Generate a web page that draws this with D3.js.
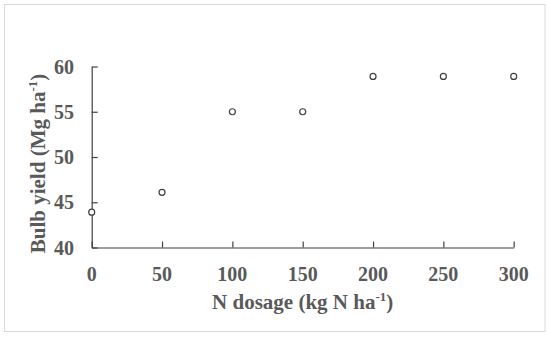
<!DOCTYPE html>
<html>
<head>
<meta charset="utf-8">
<script src="https://cdn.jsdelivr.net/npm/d3@7"></script>
<style>
  body { margin: 0; background: #fff; }
  svg { display: block; }
</style>
</head>
<body>
<svg id="chart"></svg>
<script>
// values
var doses = [0, 50, 100, 150, 200, 250, 300]
var yields = [43.9, 46.1, 55.0, 55.0, 58.9, 58.9, 58.9]
var xTicks = [0, 50, 100, 150, 200, 250, 300]
var yTicks = [40, 45, 50, 55, 60]

var dimensions = {
    width: 550,
    height: 337,
    margin: { top: 66.5, bottom: 89.5, left: 91.7, right: 36.3 }
}

var svg = d3.select("#chart")
    .attr("width", dimensions.width)
    .attr("height", dimensions.height)

// outer frame
svg.append("rect")
    .attr("x", 4.5).attr("y", 4.5)
    .attr("width", 540.5).attr("height", 327)
    .attr("fill", "none")
    .attr("stroke", "#d9d9d9")
    .attr("stroke-width", 1)

var xScale = d3.scaleLinear()
    .domain([0, 300])
    .range([dimensions.margin.left, dimensions.width - dimensions.margin.right])

var yScale = d3.scaleLinear()
    .domain([40, 60])
    .range([dimensions.height - dimensions.margin.bottom, dimensions.margin.top])

var font = "'Liberation Serif', 'Times New Roman', serif"
var axisColor = "#404040"
var textColor = "#595959"

var xAxis = svg.append("g")
    .attr("transform", "translate(0," + yScale(40) + ")")
    .call(d3.axisTop(xScale).tickValues(xTicks).tickSize(6).tickSizeOuter(0).tickFormat(""))
xAxis.select(".domain").attr("stroke", axisColor).attr("stroke-width", 1.2)
xAxis.selectAll(".tick line").attr("stroke", axisColor).attr("stroke-width", 1.2)

var yAxis = svg.append("g")
    .attr("transform", "translate(" + xScale(0) + ",0)")
    .call(d3.axisRight(yScale).tickValues(yTicks).tickSize(6).tickSizeOuter(0).tickFormat(""))
yAxis.select(".domain").attr("stroke", axisColor).attr("stroke-width", 1.2)
yAxis.selectAll(".tick line").attr("stroke", axisColor).attr("stroke-width", 1.2)

// tick labels
svg.append("g").selectAll("text")
    .data(xTicks)
    .enter()
    .append("text")
    .attr("x", d => xScale(d))
    .attr("y", 280.5)
    .attr("text-anchor", "middle")
    .attr("font-family", font)
    .attr("font-weight", "bold")
    .attr("font-size", 20)
    .attr("fill", textColor)
    .text(d => d)

svg.append("g").selectAll("text")
    .data(yTicks)
    .enter()
    .append("text")
    .attr("x", 74)
    .attr("y", d => yScale(d) + 7)
    .attr("text-anchor", "end")
    .attr("font-family", font)
    .attr("font-weight", "bold")
    .attr("font-size", 20)
    .attr("fill", textColor)
    .text(d => d)

// axis titles
var xTitle = svg.append("text")
    .attr("x", (xScale(0) + xScale(300)) / 2)
    .attr("y", 309)
    .attr("text-anchor", "middle")
    .attr("font-family", font)
    .attr("font-weight", "bold")
    .attr("font-size", 21)
    .attr("fill", textColor)
xTitle.append("tspan").text("N dosage (kg N ha")
xTitle.append("tspan").attr("font-size", 13).attr("dy", -8).text("-1")
xTitle.append("tspan").attr("dy", 8).text(")")

var yTitle = svg.append("text")
    .attr("transform", "translate(45,163.5) rotate(-90)")
    .attr("text-anchor", "middle")
    .attr("font-family", font)
    .attr("font-weight", "bold")
    .attr("font-size", 21)
    .attr("fill", textColor)
yTitle.append("tspan").text("Bulb yield (Mg ha")
yTitle.append("tspan").attr("font-size", 13).attr("dy", -8).text("-1")
yTitle.append("tspan").attr("dy", 8).text(")")

// points
svg.append("g").selectAll("circle")
    .data(doses)
    .enter()
    .append("circle")
    .attr("cx", d => xScale(d))
    .attr("cy", (d, i) => yScale(yields[i]))
    .attr("r", 3)
    .attr("fill", "#fff")
    .attr("stroke", axisColor)
    .attr("stroke-width", 1.2)
</script>
</body>
</html>
